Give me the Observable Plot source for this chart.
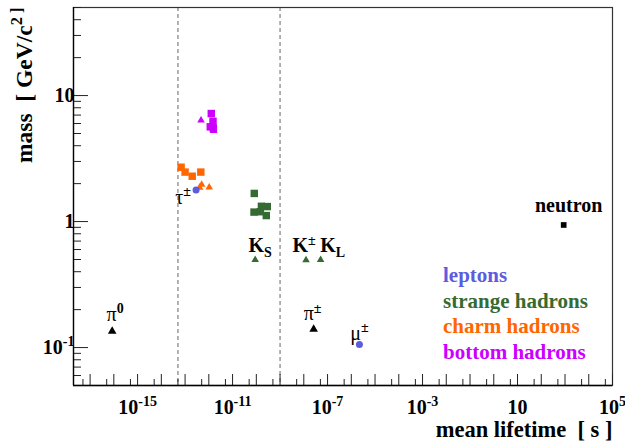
<!DOCTYPE html>
<html><head><meta charset="utf-8">
<script src="https://cdn.jsdelivr.net/npm/d3@7"></script>
<script src="https://cdn.jsdelivr.net/npm/@observablehq/plot@0.6"></script>
<style>
body{margin:0;background:#fff}
svg, svg text, svg tspan{font-family:"Liberation Serif","Times New Roman",serif !important}
</style>
</head><body><div id="chart"></div>
<script>
// ---- data (mean lifetime [s], mass [GeV/c^2]) ----
const otherNames = ["π0", "π±", "neutron"];
const otherLifetime = [8.5e-17, 2.6e-8, 880];
const otherMass = [0.135, 0.1396, 0.9396];
const otherShape = ["triangle", "triangle", "square"];

const leptonNames = ["τ±", "μ±"];
const leptonLifetime = [2.9e-13, 2.2e-6];
const leptonMass = [1.777, 0.1057];

const strangeMesonNames = ["KS", "K±", "KL"];
const strangeMesonLifetime = [8.95e-11, 1.24e-8, 5.1e-8];
const strangeMesonMass = [0.4976, 0.4937, 0.4976];

const strangeBaryonNames = ["Λ", "Σ+", "Σ-", "Ξ0", "Ξ-", "Ω-"];
const strangeBaryonLifetime = [2.63e-10, 0.80e-10, 1.48e-10, 2.9e-10, 1.64e-10, 0.82e-10];
const strangeBaryonMass = [1.116, 1.189, 1.197, 1.315, 1.322, 1.672];

const charmMesonNames = ["D+", "D0", "Ds"];
const charmMesonLifetime = [1.04e-12, 4.1e-13, 5.0e-13];
const charmMesonMass = [1.87, 1.865, 1.968];

const charmBaryonNames = ["Λc", "Ξc+", "Ξc0", "Ωc"];
const charmBaryonLifetime = [2.0e-13, 4.6e-13, 1.0e-13, 6.8e-14];
const charmBaryonMass = [2.29, 2.47, 2.47, 2.70];

const bottomMesonNames = ["B", "Bc"];
const bottomMesonLifetime = [1.58e-12, 4.7e-13];
const bottomMesonMass = [5.25, 6.35];

const bottomBaryonNames = ["b1", "b2", "b3", "b4"];
const bottomBaryonLifetime = [1.27e-12, 1.5e-12, 1.15e-12, 1.55e-12];
const bottomBaryonMass = [7.2, 6.25, 5.65, 5.5];

const dashedLifetimes = [5e-14, 1e-9];

const xLabelTicks = [1e-15, 1e-11, 1e-7, 1e-3, 10, 1e5];
const xLabelTexts = ["10^-15", "10^-11", "10^-7", "10^-3", "10", "10^5"];
const yLabelTicks = [0.1, 1, 10];
const yLabelTexts = ["10^-1", "1", "10"];

const legendNames = ["leptons", "strange hadrons", "charm hadrons", "bottom hadrons"];
const legendColors = ["#5c5ce0", "#356b32", "#ff6600", "#cc00ff"];

// ---- helpers ----
const FONT = "Liberation Serif";
const rows = (names, t, m, extra = {}) => names.map((n, i) => ({name: n, t: t[i], m: m[i], ...Object.fromEntries(Object.entries(extra).map(([k, v]) => [k, v[i]]))}));
const others = rows(otherNames, otherLifetime, otherMass, {shape: otherShape});
const leptons = rows(leptonNames, leptonLifetime, leptonMass);
const sMes = rows(strangeMesonNames, strangeMesonLifetime, strangeMesonMass);
const sBar = rows(strangeBaryonNames, strangeBaryonLifetime, strangeBaryonMass);
const cMes = rows(charmMesonNames, charmMesonLifetime, charmMesonMass);
const cBar = rows(charmBaryonNames, charmBaryonLifetime, charmBaryonMass);
const bMes = rows(bottomMesonNames, bottomMesonLifetime, bottomMesonMass);
const bBar = rows(bottomBaryonNames, bottomBaryonLifetime, bottomBaryonMass);

const decadesX = d3.range(-17, 6).map(e => Math.pow(10, e));
const fivesX = d3.range(-18, 5).map(e => 5 * Math.pow(10, e));
const decadesY = [0.1, 1, 10];
const minorY = [];
for (const e of [-2, -1, 0, 1]) for (let k = 2; k <= 9; k++) { const v = k * Math.pow(10, e); if (v >= 0.05 && v <= 50) minorY.push(v); }

const pick = (arr, name) => arr.filter(d => d.name === name);
const lbl = (arr, name, text, opts) => Plot.text(pick(arr, name), {x: "t", y: "m", text: () => text, lineAnchor: "bottom", fontSize: 20, fontFamily: FONT, fill: "black", ...opts});

const LABEL_FONT = {fontSize: 20, fontWeight: "bold", fontFamily: FONT};

const chart = Plot.plot({
  width: 625, height: 442,
  marginLeft: 73, marginRight: 13, marginTop: 7, marginBottom: 57,
  x: {type: "log", domain: [2e-18, 1e5], label: null},
  y: {type: "log", domain: [0.05, 50], label: null},
  style: {background: "white", fontFamily: "'Liberation Serif', serif", overflow: "visible"},
  marks: [
    Plot.ruleX(dashedLifetimes, {stroke: "#999", strokeWidth: 1.5, strokeDasharray: "4,3"}),
    Plot.frame({stroke: "#333", strokeWidth: 1.2}),
    // x ticks
    Plot.axisX({ticks: decadesX, tickSize: -11, tickFormat: () => "", stroke: "#222"}),
    Plot.axisX({ticks: fivesX, tickSize: -6, tickFormat: () => "", stroke: "#222"}),
    Plot.axisX({ticks: xLabelTicks, tickSize: 0, tickPadding: 14, tickFormat: d => xLabelTexts[xLabelTicks.indexOf(d)], ...LABEL_FONT, fill: "black"}),
    // y ticks
    Plot.axisY({ticks: decadesY, tickSize: -15, tickFormat: () => "", stroke: "#222"}),
    Plot.axisY({ticks: minorY, tickSize: -8, tickFormat: () => "", stroke: "#222"}),
    Plot.axisY({ticks: yLabelTicks, tickSize: 0, tickPadding: 5, dx: 6, tickFormat: d => yLabelTexts[yLabelTicks.indexOf(d)], ...LABEL_FONT, fill: "black"}),
    Plot.ruleX([2e-18], {stroke: "black", strokeWidth: 1.3}),
    Plot.ruleY([0.05], {stroke: "black", strokeWidth: 1.3}),
    // axis titles
    Plot.text(["mean lifetime  [ s ]"], {frameAnchor: "bottom-right", textAnchor: "end", lineAnchor: "bottom", dy: 51, dx: 0, fontSize: 22.5, fontWeight: "bold", fontFamily: FONT, fill: "black"}),
    Plot.text(["mass  [ GeV/c^2 ]"], {frameAnchor: "top-left", textAnchor: "end", lineAnchor: "bottom", rotate: -90, dx: -42, dy: 0, fontSize: 23.5, fontWeight: "bold", fontFamily: FONT, fill: "black"}),
    // points
    Plot.dot(others, {x: "t", y: "m", symbol: "shape", r: 3.2, fill: "black", stroke: "none"}),
    Plot.dot(sMes, {x: "t", y: "m", symbol: "triangle", r: 2.8, fill: legendColors[1]}),
    Plot.dot(sBar, {x: "t", y: "m", symbol: "square", r: 4.2, fill: legendColors[1]}),
    Plot.dot(cMes, {x: "t", y: "m", symbol: "triangle", r: 2.8, fill: legendColors[2]}),
    Plot.dot(cBar, {x: "t", y: "m", symbol: "square", r: 4.2, fill: legendColors[2]}),
    Plot.dot(bMes, {x: "t", y: "m", symbol: "triangle", r: 2.8, fill: legendColors[3]}),
    Plot.dot(bBar, {x: "t", y: "m", symbol: "square", r: 4.2, fill: legendColors[3]}),
    Plot.dot(leptons, {x: "t", y: "m", symbol: "circle", r: 3.5, fill: legendColors[0]}),
    // particle labels
    lbl(others, "π0", "π^0", {dx: 3, dy: -10}),
    lbl(others, "π±", "π^±", {dx: -1, dy: -9}),
    lbl(leptons, "μ±", "μ^±", {dx: 0, dy: -5}),
    lbl(leptons, "τ±", "τ^±", {textAnchor: "end", dx: -5, dy: 14}),
    lbl(sMes, "KS", "K_S", {dx: 5, dy: -8, fontWeight: "bold"}),
    lbl(sMes, "K±", "K^±", {dx: -2, dy: -8, fontWeight: "bold"}),
    lbl(sMes, "KL", "K_L", {dx: 12, dy: -8, fontWeight: "bold"}),
    lbl(others, "neutron", "neutron", {dx: 5, dy: -13, fontWeight: "bold"}),
    // legend
    ...legendNames.map((name, i) => Plot.text([name], {frameAnchor: "top-left", textAnchor: "start", lineAnchor: "bottom", dx: 369.5, dy: 274.5 + i * 25.5, fontSize: 21, fontWeight: "bold", fontFamily: FONT, fill: legendColors[i]}))
  ]
});

// rich text: a^b superscript, a_b subscript
d3.select(chart).selectAll("text").each(function() {
  const s = this.textContent;
  const m = s.match(/^([^\^_]*)([\^_])(.*)$/);
  if (!m) return;
  const el = d3.select(this);
  el.text(null);
  el.append("tspan").text(m[1]);
  const sup = m[2] === "^";
  el.append("tspan").attr("font-size", "0.7em").attr("font-weight", "bold")
    .attr("dy", sup ? "-0.55em" : "0.35em").text(m[3]);
});
d3.select(chart).attr("font-family", "'Liberation Serif', serif");

document.getElementById("chart").appendChild(chart);
</script>
</body></html>
